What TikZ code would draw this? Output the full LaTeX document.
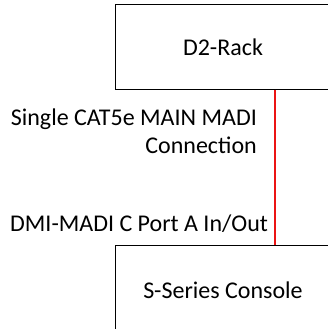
\documentclass[tikz,border=0pt]{standalone}
\usepackage{fontspec}
\setmainfont{Carlito}
\usepackage{xcolor}
\definecolor{cablered}{RGB}{235,20,20}
\usepackage{tikz}
\usetikzlibrary{positioning}

\begin{document}
\begin{tikzpicture}[x=1pt,y=1pt,
unit/.style={draw=black,line width=1pt,fill=white,minimum width=216pt,font=\fontsize{24}{28}\selectfont,inner sep=0pt},
link/.style={color=cablered,line width=1.3pt},
lbl/.style={font=\fontsize{24}{28}\selectfont,inner sep=0pt,align=right}]
\useasboundingbox (0,0) rectangle (328,-329);
\node[unit,minimum height=84pt] (rack) at (223,-47) {D2-Rack};
\node[unit,minimum height=90pt] (console) at (223,-290) {S-Series Console};
\draw[link] ([xshift=52pt]rack.south)--([xshift=52pt]console.north);
\node[lbl,anchor=base east] (cable) at (257,-153) {Single CAT5e MAIN MADI\\Connection};
\node[lbl,anchor=base west] (port) at (10,-231) {DMI-MADI C Port A In/Out};
\end{tikzpicture}
\end{document}
